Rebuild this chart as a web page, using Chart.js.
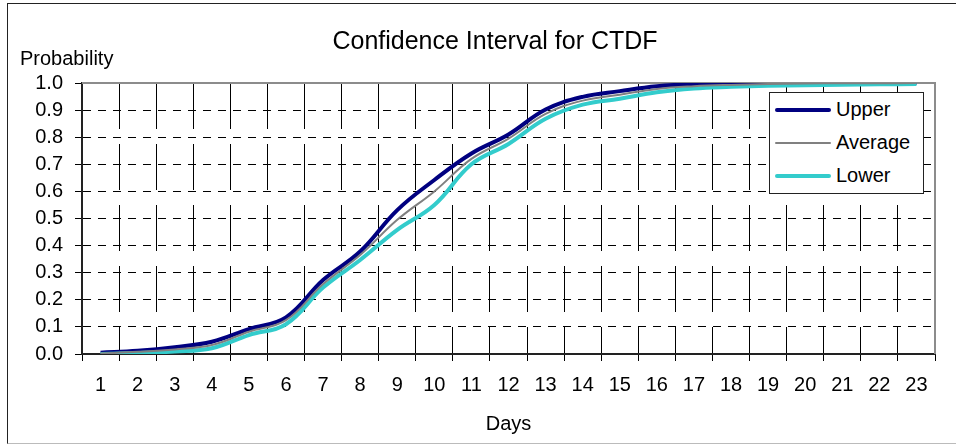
<!DOCTYPE html>
<html>
<head>
<meta charset="utf-8">
<script src="https://cdn.jsdelivr.net/npm/chart.js@4"></script>
<style>
  body { margin: 0; background: #fff; font-family: Arial, "Liberation Sans", sans-serif; }
  #frame { position: absolute; left: 7px; top: 3px; width: 948px; height: 439px;
           border-left: 1px solid #222; border-top: 1px solid #222; border-bottom: 1px solid #bbb; }
  #chartWrap { position: absolute; left: 0; top: 0; width: 948px; height: 439px; }
  #title { position: absolute; left: 0; width: 990px; top: 26px; line-height: 28px;
           text-align: center; font-size: 25px; color: #000; }
  #ylab { position: absolute; left: 20px; top: 46px; line-height: 24px; font-size: 20px; color: #000; }
  #legend { position: absolute; left: 769px; top: 92px; width: 155px; height: 102px; box-sizing: border-box;
            border: 1px solid #222; background: #fff; }
  .row { height: 33px; display: flex; align-items: center; }
  .swatch { margin-left: 5px; width: 56px; border-radius: 3px; }
  .row span { margin-left: 5px; font-size: 20px; color: #000; }
</style>
</head>
<body>
<div id="frame"><div id="chartWrap"><canvas id="grafico"></canvas></div></div>
<div id="title">Confidence Interval for CTDF</div>
<div id="ylab">Probability</div>
<div id="legend"></div>
<script>
const dias = ["1","2","3","4","5","6","7","8","9","10","11","12","13","14","15","16","17","18","19","20","21","22","23"];
const upper = [0.005, 0.012, 0.025, 0.045, 0.092, 0.135, 0.273, 0.378, 0.531, 0.642, 0.740, 0.810, 0.902, 0.949, 0.970, 0.988, 0.996, 0.998, 0.999, 1.0, 1.0, 1.0, 1.0];
const average = [0.002, 0.008, 0.017, 0.033, 0.082, 0.125, 0.258, 0.365, 0.495, 0.600, 0.720, 0.795, 0.886, 0.935, 0.957, 0.978, 0.988, 0.993, 0.996, 0.998, 0.999, 0.999, 1.0];
const lower = [0.0, 0.004, 0.009, 0.021, 0.070, 0.110, 0.245, 0.347, 0.458, 0.550, 0.700, 0.775, 0.868, 0.920, 0.942, 0.966, 0.980, 0.986, 0.990, 0.992, 0.994, 0.995, 0.996];
const nomes = ["Upper", "Average", "Lower"];

Chart.defaults.font.family = 'Arial, "Liberation Sans", sans-serif';
Chart.defaults.color = "#000";

// gray frame on top and right of the plot area
const moldura = {
  id: "moldura",
  beforeDatasetsDraw(chart) {
    const a = chart.chartArea, ctx = chart.ctx;
    ctx.save();
    ctx.strokeStyle = "#8c8c8c";
    ctx.lineWidth = 2;
    ctx.beginPath();
    ctx.moveTo(a.left, a.top);
    ctx.lineTo(a.right, a.top);
    ctx.lineTo(a.right, a.bottom);
    ctx.stroke();
    ctx.restore();
  }
};

const series = [
  { label: nomes[0], data: upper, borderColor: "#000080", borderWidth: 4, order: 3 },
  { label: nomes[1], data: average, borderColor: "#808080", borderWidth: 2, order: 1 },
  { label: nomes[2], data: lower, borderColor: "#33cccc", borderWidth: 4, order: 2 }
];

let linhas = new Chart(document.getElementById("grafico"), {
  type: "line",
  data: {
    labels: dias,
    datasets: series.map(s => ({ ...s, pointRadius: 0, tension: 0.4, fill: false }))
  },
  options: {
    responsive: false,
    animation: false,
    maintainAspectRatio: false,
    layout: { padding: { left: 27, right: 21, top: 79, bottom: 3 } },
    plugins: {
      legend: { display: false },
      title: { display: false },
      tooltip: { enabled: false }
    },
    scales: {
      x: {
        offset: true,
        grid: { offset: true, color: "#000", lineWidth: 1, tickLength: 7, tickColor: "#000" },
        border: { color: "#222", width: 2, dash: [46, 15] },
        ticks: { font: { size: 20 }, padding: 12, maxRotation: 0, autoSkip: false },
        title: { display: true, text: "Days", font: { size: 20 }, padding: { top: 15, bottom: 4 } },
        afterFit(scale) { scale.height = 86; }
      },
      y: {
        min: 0,
        max: 1,
        grid: { color: "#000", lineWidth: 1, tickLength: 7, tickColor: "#000" },
        border: { color: "#222", width: 2, dash: [8, 7] },
        ticks: { stepSize: 0.1, autoSkip: false, font: { size: 20 }, padding: 12, callback: v => v.toFixed(1) },
        afterFit(scale) { scale.width = 47; }
      }
    }
  },
  plugins: [moldura]
});
linhas.resize(948, 439);

// legend box from the dataset list
const leg = document.getElementById("legend");
series.forEach(s => {
  const r = document.createElement("div");
  r.className = "row";
  r.innerHTML = '<div class="swatch" style="height:' + s.borderWidth + 'px;background:' + s.borderColor + '"></div><span>' + s.label + '</span>';
  leg.appendChild(r);
});
</script>
</body>
</html>
